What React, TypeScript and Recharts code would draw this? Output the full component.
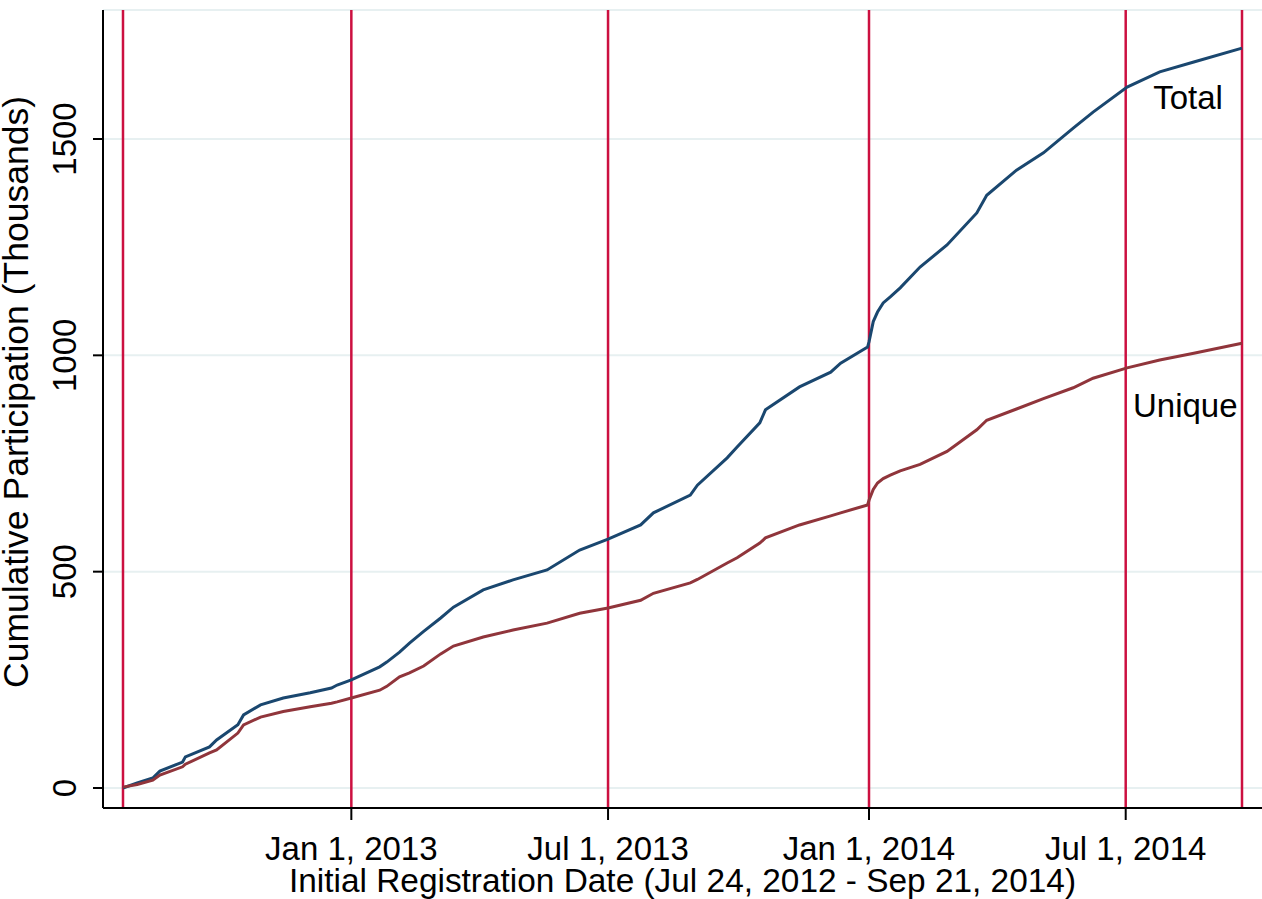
import React from 'react';
import { LineChart, Line, XAxis, YAxis, CartesianGrid, ReferenceLine, ReferenceDot } from 'recharts';

// days since Jul 24, 2012
const days = [
  0, 10, 21, 26, 42, 44, 61, 66, 81, 85, 97, 113, 132, 147, 151, 161, 181, 186, 195, 202,
  212, 224, 233, 254, 275, 299, 322, 342, 365, 374, 400, 405, 426, 433, 449, 453, 477, 499,
  506, 525, 526, 529, 532, 536, 541, 548, 562, 581, 602, 609, 630, 649, 670, 684, 708, 731,
  755, 789,
];
// cumulative participation, thousands
const totalValues = [
  0, 12, 23, 39, 60, 72, 95, 111, 146, 169, 192, 208, 220, 231, 238, 250, 280, 291, 314, 335,
  362, 393, 418, 458, 481, 504, 550, 575, 608, 636, 677, 700, 763, 788, 844, 874, 927, 961,
  982, 1019, 1031, 1078, 1100, 1121, 1135, 1156, 1204, 1255, 1329, 1370, 1428, 1468, 1525, 1562, 1620, 1655,
  1678, 1710,
];
const uniqueValues = [
  2, 8, 18, 30, 49, 55, 81, 88, 127, 146, 164, 177, 188, 196, 199, 208, 226, 235, 257, 266,
  282, 310, 328, 349, 365, 381, 404, 416, 434, 450, 474, 482, 520, 532, 566, 578, 608, 629,
  636, 654, 665, 690, 705, 715, 723, 733, 748, 778, 828, 850, 876, 900, 925, 947, 971, 989,
  1005, 1028,
];

const markerDays = [0, 161, 342, 526, 707, 789];
const xTickDays = [161, 342, 526, 707];
const xTickLabels = ['Jan 1, 2013', 'Jul 1, 2013', 'Jan 1, 2014', 'Jul 1, 2014'];
const yTicks = [0, 500, 1000, 1500];

const data = days.map((d, i) => ({ day: d, total: totalValues[i], unique: uniqueValues[i] }));

const FONT = '"Liberation Sans", Arial, sans-serif';
const NAVY = '#1a476f';
const MAROON = '#90353b';
const MARKER = '#cc1040';

const XTick = (props: any) => {
  const { x, y, payload } = props;
  const idx = xTickDays.indexOf(payload.value);
  return (
    <text x={x} y={y + 38} textAnchor="middle" fontSize={33} fontFamily={FONT} fill="#000">
      {xTickLabels[idx]}
    </text>
  );
};

const YTick = (props: any) => {
  const { x, y, payload } = props;
  return (
    <text
      x={x - 15}
      y={y}
      transform={`rotate(-90, ${x - 15}, ${y})`}
      textAnchor="middle"
      fontSize={33}
      fontFamily={FONT}
      fill="#000"
    >
      {payload.value}
    </text>
  );
};

const SeriesLabel = (text: string) => (props: any) => {
  const { viewBox } = props;
  const cx = viewBox.x + (viewBox.width || 0) / 2;
  const cy = viewBox.y + (viewBox.height || 0) / 2;
  return (
    <text x={cx} y={cy} textAnchor="middle" dominantBaseline="central" fontSize={33} fontFamily={FONT} fill="#000">
      {text}
    </text>
  );
};

export default function App() {
  return (
    <div style={{ position: 'absolute', left: 0, top: 0, background: '#fff' }}>
      <LineChart width={1262} height={899} data={data} margin={{ top: 10, right: 0, bottom: 0, left: 0 }}>
        <CartesianGrid vertical={false} stroke="#e7f0f1" strokeWidth={2} />
        <XAxis
          dataKey="day"
          type="number"
          domain={[-14.1, 803.1]}
          ticks={xTickDays}
          tick={<XTick />}
          tickSize={12}
          height={91}
          axisLine={{ stroke: '#000', strokeWidth: 2 }}
          tickLine={{ stroke: '#000', strokeWidth: 2 }}
          allowDataOverflow
          label={{
            value: 'Initial Registration Date (Jul 24, 2012 - Sep 21, 2014)',
            position: 'insideBottom',
            offset: 7,
            fontSize: 33.4,
            fontFamily: FONT,
            fill: '#000',
          }}
        />
        <YAxis
          type="number"
          domain={[-46.2, 1798.1]}
          ticks={yTicks}
          tick={<YTick />}
          tickSize={10}
          width={103}
          axisLine={{ stroke: '#000', strokeWidth: 2 }}
          tickLine={{ stroke: '#000', strokeWidth: 2 }}
          allowDataOverflow
          label={{
            value: 'Cumulative Participation (Thousands)',
            angle: -90,
            position: 'insideLeft',
            offset: 15,
            dy: -17,
            fontSize: 35.5,
            fontFamily: FONT,
            fill: '#000',
            style: { textAnchor: 'middle' },
          }}
        />
        {markerDays.map((d) => (
          <ReferenceLine key={d} x={d} stroke={MARKER} strokeWidth={2.5} />
        ))}
        <Line type="linear" dataKey="total" stroke={NAVY} strokeWidth={3} dot={false} isAnimationActive={false} />
        <Line type="linear" dataKey="unique" stroke={MAROON} strokeWidth={3} dot={false} isAnimationActive={false} />
        <ReferenceDot x={751} y={1597} r={0} fill="none" stroke="none" label={SeriesLabel('Total')} />
        <ReferenceDot x={749} y={885} r={0} fill="none" stroke="none" label={SeriesLabel('Unique')} />
      </LineChart>
    </div>
  );
}
